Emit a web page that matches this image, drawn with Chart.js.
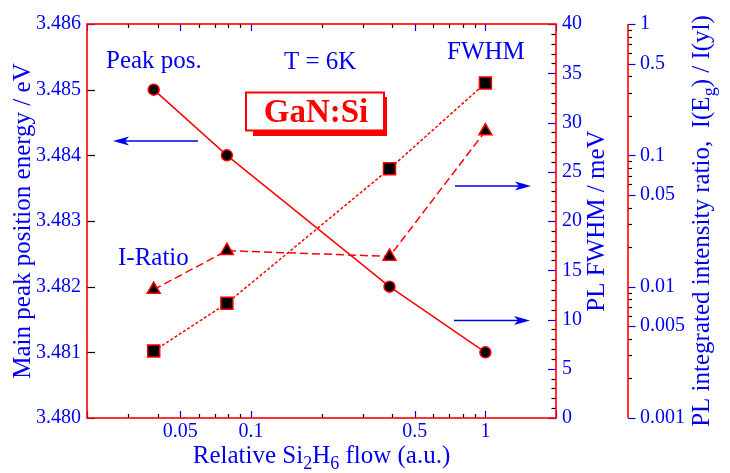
<!DOCTYPE html>
<html>
<head>
<meta charset="utf-8">
<script src="https://cdn.jsdelivr.net/npm/chart.js@4/dist/chart.umd.min.js"></script>
<style>
  html, body { margin: 0; padding: 0; background: #ffffff; }
  #wrap { width: 730px; height: 473px; }
</style>
</head>
<body>
<div id="wrap"><canvas id="c" width="730" height="473"></canvas></div>
<script>
// ---- data ----
const flow = [0.0385, 0.079, 0.39, 1];            // Relative Si2H6 flow (a.u.)
const peakPos = [3.485, 3.484, 3.482, 3.481];       // Main peak position energy / eV
const fwhm = [6.8, 11.65, 25.3, 34.0];              // PL FWHM / meV
const iRatio = [0.0095, 0.0188, 0.017, 0.153];      // PL integrated intensity ratio

// ---- tick labels ----
const xTickLabels = [0.05, 0.1, 0.5, 1];
const peakTickLabels = [3.480, 3.481, 3.482, 3.483, 3.484, 3.485, 3.486];
const fwhmTickLabels = [0, 5, 10, 15, 20, 25, 30, 35, 40];
const ratioTickLabels = [0.001, 0.005, 0.01, 0.05, 0.1, 0.5, 1];

const BLUE = '#0000ee';
const RED = '#ff0000';
const FONT = "'Liberation Serif', 'Times New Roman', serif";

function logMinors(lo, hi) {
  const out = [];
  for (let d = 0.0001; d < 100; d *= 10) {
    for (let m = 1; m <= 9; m++) {
      const v = +(m * d).toPrecision(6);
      if (v >= lo * 0.9999 && v <= hi * 1.0001) out.push(v);
    }
  }
  return out;
}

const xAll = logMinors(0.02, 2);
const ratioAll = logMinors(0.001, 1);

function pts(ys) { return flow.map((x, i) => ({ x: x, y: ys[i] })); }

function drawRich(ctx, parts, size, align) {
  // draws parts at current origin; baseline at y=0
  let total = 0;
  const widths = parts.map(p => {
    ctx.font = (p.sub ? Math.round(size * 0.7) : size) + 'px ' + FONT;
    const w = ctx.measureText(p.t).width;
    total += w;
    return w;
  });
  let x = align === 'center' ? -total / 2 : 0;
  parts.forEach((p, i) => {
    ctx.font = (p.sub ? Math.round(size * 0.7) : size) + 'px ' + FONT;
    ctx.fillText(p.t, x, p.sub ? size * 0.25 : 0);
    x += widths[i];
  });
}

function arrow(ctx, xTail, y, xTip) {
  const dir = Math.sign(xTip - xTail);
  const headLen = 16, half = 4.5;
  ctx.save();
  ctx.strokeStyle = BLUE; ctx.fillStyle = BLUE; ctx.lineWidth = 1.5;
  ctx.beginPath();
  ctx.moveTo(xTail, y); ctx.lineTo(xTip - dir * headLen * 0.6, y); ctx.stroke();
  ctx.beginPath();
  ctx.moveTo(xTip, y);
  ctx.lineTo(xTip - dir * headLen, y - half);
  ctx.lineTo(xTip - dir * headLen * 0.75, y);
  ctx.lineTo(xTip - dir * headLen, y + half);
  ctx.closePath(); ctx.fill();
  ctx.restore();
}

const decor = {
  id: 'decor',
  beforeDatasetsDraw(chart) {
    const { ctx, chartArea: ca, scales } = chart;
    const { x, y, y2, y3 } = scales;
    ctx.save();
    ctx.lineWidth = 1.2;
    const line = (x1, y1, x2, y2c, col) => {
      ctx.strokeStyle = col; ctx.beginPath(); ctx.moveTo(x1, y1); ctx.lineTo(x2, y2c); ctx.stroke();
    };
    // x ticks (bottom & top, inward)
    xAll.forEach(v => {
      const px = Math.round(x.getPixelForValue(v)) + 0.5;
      const major = xTickLabels.includes(v) || v === 0.02 || v === 2;
      const len = major ? 7 : 4;
      const col = major ? BLUE : '#000';
      line(px, ca.bottom, px, ca.bottom - len, col);
      line(px, ca.top, px, ca.top + len, col);
    });
    // left ticks
    peakTickLabels.forEach((v, i) => {
      const py = Math.round(y.getPixelForValue(v)) + 0.5;
      const edge = i === 0 || i === peakTickLabels.length - 1;
      line(ca.left, py, ca.left + 8, py, edge ? BLUE : '#000');
    });
    // FWHM ticks (inside, on right border)
    for (let v = 0; v <= 40; v++) {
      const py = Math.round(y2.getPixelForValue(v)) + 0.5;
      const major = fwhmTickLabels.includes(v);
      line(ca.right - (major ? 8 : 4.5), py, ca.right, py, major ? BLUE : '#000');
    }
    // ratio ticks (outside of its axis line)
    ratioAll.forEach(v => {
      const py = Math.round(y3.getPixelForValue(v)) + 0.5;
      const major = ratioTickLabels.includes(v);
      line(y3.left, py, y3.left + (major ? 7.5 : 4), py, major ? BLUE : '#000');
    });
    // frame
    ctx.strokeStyle = RED; ctx.lineWidth = 1.6;
    ctx.strokeRect(ca.left, ca.top, ca.right - ca.left, ca.bottom - ca.top);
    line(y3.left, ca.top, y3.left, ca.bottom, RED);
    ctx.restore();
  },
  afterDraw(chart) {
    const { ctx, chartArea: ca } = chart;
    ctx.save();
    ctx.fillStyle = BLUE;
    ctx.textBaseline = 'alphabetic';
    ctx.textAlign = 'left';
    // annotations
    ctx.font = '25px ' + FONT;
    ctx.fillText('Peak pos.', 106, 68);
    ctx.fillText('T = 6K', 284, 69);
    ctx.fillText('FWHM', 447, 59);
    ctx.fillText('I-Ratio', 118, 265);
    // arrows
    arrow(ctx, 198, 141, 113);
    arrow(ctx, 455, 186, 531);
    arrow(ctx, 454, 320.5, 530);
    // GaN:Si box
    ctx.fillStyle = RED;
    ctx.fillRect(253, 97, 134, 39);
    ctx.fillStyle = '#fff';
    ctx.fillRect(246, 92.5, 138, 38);
    ctx.strokeStyle = RED; ctx.lineWidth = 2;
    ctx.strokeRect(246, 92.5, 138, 38);
    ctx.fillStyle = RED;
    ctx.font = 'bold 33px ' + FONT;
    ctx.textAlign = 'center';
    ctx.fillText('GaN:Si', 316, 122);
    // axis titles
    ctx.fillStyle = BLUE;
    ctx.textAlign = 'left';
    const midY = (ca.top + ca.bottom) / 2;
    // x title
    ctx.save();
    ctx.translate((ca.left + ca.right) / 2, 463);
    drawRich(ctx, [{ t: 'Relative Si' }, { t: '2', sub: true }, { t: 'H' }, { t: '6', sub: true }, { t: ' flow (a.u.)' }], 25, 'center');
    ctx.restore();
    // left title
    ctx.save();
    ctx.translate(29.5, midY);
    ctx.rotate(-Math.PI / 2);
    drawRich(ctx, [{ t: 'Main peak position energy / eV' }], 25, 'center');
    ctx.restore();
    // middle title
    ctx.save();
    ctx.translate(603.5, midY);
    ctx.rotate(-Math.PI / 2);
    drawRich(ctx, [{ t: 'PL FWHM / meV' }], 25, 'center');
    ctx.restore();
    // right title
    ctx.save();
    ctx.translate(708.5, midY);
    ctx.rotate(-Math.PI / 2);
    drawRich(ctx, [{ t: 'PL integrated intensity ratio,  I(E' }, { t: 'g', sub: true }, { t: ') / I(yl)' }], 25, 'center');
    ctx.restore();
    ctx.restore();
  }
};

const tickFont = { family: FONT, size: 20 };

new Chart(document.getElementById('c'), {
  type: 'scatter',
  data: {
    datasets: [
      {
        label: 'Peak pos.', yAxisID: 'y', data: pts(peakPos), showLine: true,
        borderColor: RED, borderWidth: 1.5, pointStyle: 'circle', pointRadius: 5.5,
        pointBackgroundColor: '#000', pointBorderColor: RED, pointBorderWidth: 1.5
      },
      {
        label: 'FWHM', yAxisID: 'y2', data: pts(fwhm), showLine: true,
        borderColor: RED, borderWidth: 1.5, borderDash: [3, 2], pointStyle: 'rect', pointRadius: 8.5,
        pointBackgroundColor: '#000', pointBorderColor: RED, pointBorderWidth: 1.5
      },
      {
        label: 'I-Ratio', yAxisID: 'y3', data: pts(iRatio), showLine: true,
        borderColor: RED, borderWidth: 1.5, borderDash: [8, 4], pointStyle: 'triangle', pointRadius: 7.5,
        pointBackgroundColor: '#000', pointBorderColor: RED, pointBorderWidth: 1.5
      }
    ]
  },
  options: {
    responsive: false,
    animation: false,
    devicePixelRatio: 1,
    layout: { padding: { top: 22, left: 0, right: 0, bottom: 0 } },
    plugins: { legend: { display: false }, tooltip: { enabled: false } },
    scales: {
      x: {
        type: 'logarithmic', position: 'bottom', min: 0.02, max: 2,
        grid: { display: false, drawTicks: false }, border: { display: false },
        afterBuildTicks: s => { s.ticks = xAll.map(v => ({ value: v })); },
        afterFit: s => { s.height = 55; },
        ticks: {
          autoSkip: false, maxRotation: 0, color: BLUE, font: tickFont, padding: 2,
          callback: v => (xTickLabels.includes(+(+v).toPrecision(6)) ? String(+(+v).toPrecision(6)) : '')
        }
      },
      y: {
        type: 'linear', position: 'left', min: 3.480, max: 3.486,
        grid: { display: false, drawTicks: false }, border: { display: false },
        afterBuildTicks: s => { s.ticks = peakTickLabels.map(v => ({ value: v })); },
        afterFit: s => { s.width = 87; },
        ticks: { autoSkip: false, color: BLUE, font: tickFont, padding: 6, callback: v => (+v).toFixed(3) }
      },
      y2: {
        type: 'linear', position: 'right', min: 0, max: 40,
        grid: { display: false, drawTicks: false }, border: { display: false },
        afterBuildTicks: s => { s.ticks = fwhmTickLabels.map(v => ({ value: v })); },
        afterFit: s => { s.width = 72; },
        ticks: { autoSkip: false, color: BLUE, font: tickFont, padding: 6, callback: v => String(v) }
      },
      y3: {
        type: 'logarithmic', position: 'right', min: 0.001, max: 1,
        grid: { display: false, drawTicks: false }, border: { display: false },
        afterBuildTicks: s => { s.ticks = ratioAll.map(v => ({ value: v })); },
        afterFit: s => { s.width = 102; },
        ticks: {
          autoSkip: false, color: BLUE, font: tickFont, padding: 12,
          callback: v => (ratioTickLabels.includes(+(+v).toPrecision(6)) ? String(+(+v).toPrecision(6)) : '')
        }
      }
    }
  },
  plugins: [decor]
});
</script>
</body>
</html>
